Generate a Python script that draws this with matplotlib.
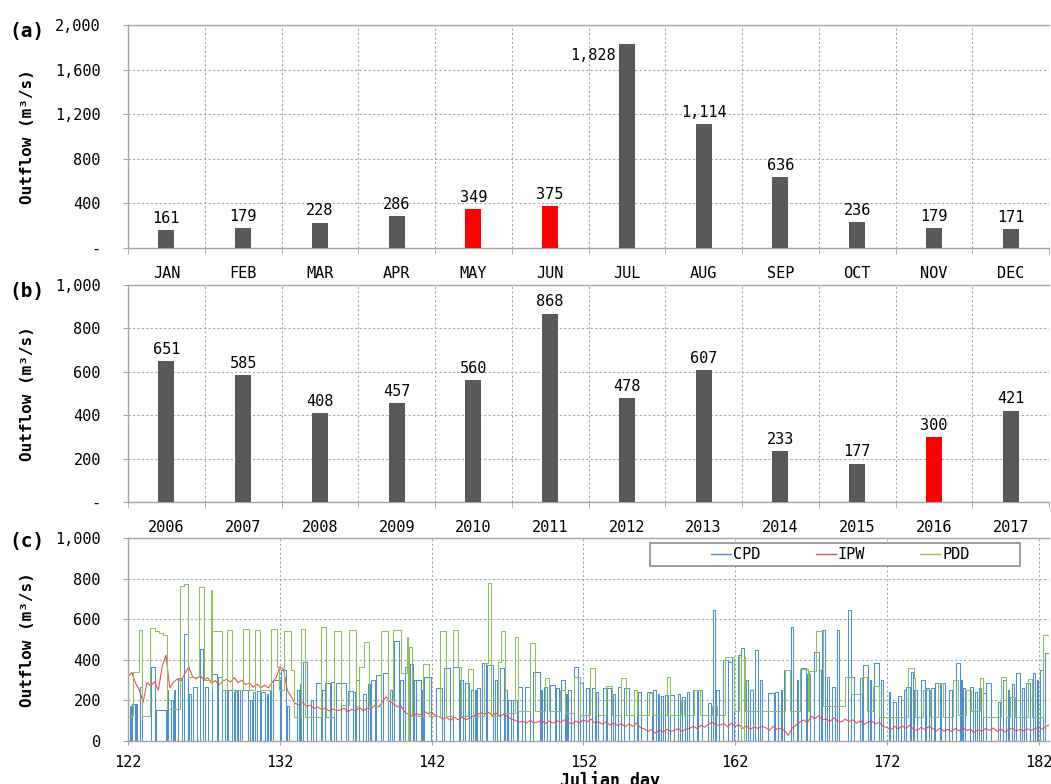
import numpy as np
import matplotlib
matplotlib.use('Agg')
import matplotlib.pyplot as plt
from matplotlib.patches import Rectangle
from matplotlib.ticker import FuncFormatter

# monthly mean outflow
months = ['JAN', 'FEB', 'MAR', 'APR', 'MAY', 'JUN',
          'JUL', 'AUG', 'SEP', 'OCT', 'NOV', 'DEC']
monthly_flow = [161, 179, 228, 286, 349, 375, 1828, 1114, 636, 236, 179, 171]
monthly_red = ['MAY', 'JUN']

# May-June mean outflow per year
years = ['2006', '2007', '2008', '2009', '2010', '2011',
         '2012', '2013', '2014', '2015', '2016', '2017']
yearly_flow = [651, 585, 408, 457, 560, 868, 478, 607, 233, 177, 300, 421]
yearly_red = ['2016']

# CPD release pulses: (start day, end day, outflow)
cpd_pulses = [
    (122.10, 122.18, 170), (122.28, 122.45, 180), (122.50, 122.58, 180), (122.79, 122.94, 265),
    (123.51, 123.78, 365), (123.85, 124.50, 155), (124.55, 124.65, 250), (124.80, 124.95, 200),
    (125.05, 125.12, 250), (125.31, 125.58, 310), (125.71, 125.97, 525),
    (126.05, 126.15, 230), (126.30, 126.52, 265), (126.74, 126.96, 455),
    (127.07, 127.29, 265), (127.55, 127.84, 330), (127.95, 128.17, 315),
    (128.39, 128.55, 250), (128.60, 128.82, 250), (128.95, 129.02, 240),
    (129.05, 129.15, 245), (129.25, 129.35, 250), (129.49, 129.93, 250),
    (130.05, 130.15, 200), (130.25, 130.35, 240), (130.47, 130.72, 245), (130.78, 131.02, 240),
    (131.15, 131.25, 230), (131.35, 131.45, 250), (131.57, 132.00, 300),
    (132.05, 132.40, 350), (132.45, 132.60, 170),
    (133.10, 133.25, 250), (133.30, 133.40, 280), (133.50, 133.80, 390),
    (134.05, 134.20, 200), (134.40, 134.70, 285), (134.80, 134.95, 250),
    (135.00, 135.30, 285), (135.37, 135.60, 292), (135.70, 136.00, 285),
    (136.05, 136.35, 285), (136.47, 136.80, 247), (136.85, 136.95, 240),
    (137.00, 137.20, 300), (137.45, 137.70, 232), (137.80, 137.92, 280),
    (138.00, 138.30, 300), (138.34, 138.67, 325), (138.77, 139.10, 333),
    (139.25, 139.40, 250), (139.55, 139.87, 495), (139.95, 140.10, 300),
    (140.25, 140.45, 366), (140.60, 140.75, 381), (140.85, 140.95, 300),
    (141.00, 141.30, 300), (141.35, 141.45, 250), (141.50, 141.97, 317),
    (142.30, 142.70, 260), (142.80, 143.20, 358),
    (143.40, 143.80, 366), (143.85, 144.05, 300),
    (144.20, 144.45, 284), (144.60, 144.75, 250), (144.85, 144.95, 250),
    (145.00, 145.20, 260), (145.30, 145.60, 383), (145.65, 146.05, 375),
    (146.15, 146.30, 300), (146.50, 146.80, 358), (146.85, 146.95, 250),
    (147.05, 147.20, 200), (147.39, 147.60, 202), (147.70, 147.95, 268),
    (148.16, 148.48, 268), (148.70, 149.15, 341),
    (149.18, 149.30, 250), (149.40, 149.60, 268), (149.80, 150.10, 276),
    (150.20, 150.40, 260), (150.50, 150.80, 300), (150.85, 150.95, 230),
    (151.00, 151.20, 250), (151.40, 151.65, 366), (151.78, 151.99, 284),
    (152.20, 152.40, 260), (152.55, 152.77, 260), (152.85, 152.95, 240),
    (153.30, 153.50, 260), (153.55, 153.85, 260), (153.95, 154.10, 230),
    (154.30, 154.50, 268), (154.65, 155.00, 260),
    (155.30, 155.50, 250), (155.60, 155.80, 240),
    (156.20, 156.50, 243), (156.60, 156.80, 250), (156.90, 157.00, 230),
    (157.10, 157.25, 220), (157.38, 157.55, 227), (157.70, 158.00, 227),
    (158.20, 158.35, 230), (158.50, 158.70, 218), (158.80, 158.95, 240),
    (159.25, 159.45, 250), (159.55, 159.80, 250),
    (160.20, 160.40, 185), (160.52, 160.68, 645), (160.75, 160.90, 250),
    (161.20, 161.50, 400), (161.55, 161.78, 390), (161.80, 161.95, 415),
    (162.20, 162.38, 424), (162.40, 162.58, 456), (162.70, 162.85, 300),
    (163.00, 163.15, 250), (163.30, 163.50, 448), (163.60, 163.75, 300),
    (164.14, 164.55, 235), (164.65, 164.80, 240),
    (165.00, 165.10, 250), (165.23, 165.67, 350), (165.68, 165.80, 560),
    (166.05, 166.15, 300), (166.33, 166.66, 362), (166.75, 166.90, 330),
    (167.20, 167.50, 440), (167.55, 167.65, 350), (167.70, 167.90, 547),
    (168.05, 168.15, 317), (168.40, 168.60, 268), (168.70, 168.86, 547),
    (169.45, 169.63, 645), (169.65, 169.80, 317),
    (170.20, 170.38, 310), (170.40, 170.77, 375), (170.85, 170.95, 300),
    (171.16, 171.50, 383), (171.60, 171.75, 300),
    (172.10, 172.20, 240), (172.40, 172.62, 190), (172.75, 172.90, 220),
    (173.10, 173.25, 250), (173.28, 173.50, 268), (173.60, 173.70, 341), (173.80, 173.95, 250),
    (174.27, 174.50, 300), (174.60, 174.75, 260),
    (174.90, 175.10, 260), (175.14, 175.47, 284), (175.58, 175.80, 284),
    (176.10, 176.25, 250), (176.57, 176.80, 383), (176.85, 176.95, 300),
    (177.00, 177.15, 260), (177.45, 177.67, 268), (177.80, 177.95, 240),
    (178.05, 178.20, 260), (178.35, 178.53, 235), (178.55, 178.88, 284),
    (179.30, 179.45, 194), (179.65, 179.87, 300), (179.95, 180.05, 250),
    (180.20, 180.35, 280), (180.52, 180.79, 333), (180.90, 181.05, 260),
    (181.18, 181.40, 284), (181.60, 181.75, 333), (181.85, 181.95, 300),
    (182.06, 182.28, 350), (182.38, 182.72, 432),
]

# IPW outflow every 6 hours, one row per day from day 122
ipw_flow = [
    317, 338, 285, 250,   190, 288, 270, 292,   250, 366, 423, 262,
    290, 305, 296, 333,   366, 318, 305, 322,   300, 312, 285, 298,
    276, 295, 304, 290,   312, 288, 300, 278,   286, 265, 280, 262,
    275, 262, 290, 310,   366, 352, 250, 218,   185, 178, 190, 172,
    176, 160, 168, 155,   162, 148, 158, 150,   153, 162, 145, 156,
    148, 165, 150, 162,   158, 175, 168, 190,   218, 195, 182, 168,
    172, 140, 132, 122,   135, 128, 148, 135,   142, 125, 120, 108,
    115, 102, 118, 104,   118, 105, 112, 125,   128, 140, 132, 142,
    126, 138, 122, 132,   120, 108, 102, 92,    98, 88, 102, 90,
    94, 102, 86, 98,      88, 100, 92, 104,     92, 84, 98, 90,
    104, 94, 108, 88,     95, 82, 96, 78,       88, 76, 85, 70,
    84, 72, 88, 66,       60, 48, 56, 38,       55, 44, 58, 48,
    52, 62, 48, 58,       62, 74, 60, 78,       68, 84, 92, 80,
    78, 86, 70, 88,       72, 80, 62, 74,       58, 70, 62, 72,
    66, 52, 72, 58,       62, 50, 28, 64,       78, 92, 104, 90,
    122, 110, 125, 104,   108, 96, 114, 98,     94, 108, 96, 104,
    88, 100, 82, 94,      98, 84, 92, 72,       66, 56, 72, 60,
    74, 62, 78, 58,       52, 68, 56, 72,       62, 50, 64, 48,
    58, 46, 62, 50,       64, 52, 58, 42,       56, 48, 62, 52,
    64, 48, 58, 44,       56, 64, 48, 58,       50, 60, 52, 62,
    66, 58, 74, 80,       70,
]

# PDD outflow: (day, outflow) held until the next entry
pdd_steps = [
    (122.00, 125), (122.35, 340), (122.72, 545), (122.95, 125),
    (123.45, 555), (123.75, 540), (124.05, 530), (124.30, 520), (124.55, 160),
    (125.43, 765), (125.70, 775), (125.98, 315),
    (126.68, 760), (127.00, 300), (127.45, 745), (127.52, 250),
    (127.56, 540), (128.18, 250), (128.50, 545), (128.88, 250),
    (129.55, 550), (129.98, 250), (130.37, 545), (130.70, 250),
    (131.45, 550), (131.80, 365), (131.95, 250),
    (132.30, 540), (132.74, 350), (132.95, 120),
    (133.40, 550), (133.65, 120), (134.71, 560), (135.04, 120),
    (135.59, 543), (136.03, 177), (136.58, 547), (137.02, 170),
    (137.24, 366), (137.57, 489), (137.90, 170),
    (138.67, 543), (139.10, 200), (139.44, 547), (139.98, 333),
    (140.36, 514), (140.42, 0), (140.50, 465), (140.70, 125),
    (141.45, 380), (141.85, 125), (142.55, 540), (142.98, 125),
    (143.40, 547), (143.72, 366), (143.95, 125),
    (144.42, 355), (144.75, 125),
    (145.45, 383), (145.71, 777), (145.89, 125),
    (146.35, 390), (146.60, 540), (146.85, 140),
    (147.50, 514), (147.70, 150), (148.46, 481), (148.79, 150),
    (149.45, 310), (149.75, 150), (150.43, 251), (150.76, 140),
    (151.35, 317), (151.75, 130), (152.44, 358), (152.77, 128),
    (153.50, 270), (153.90, 128), (154.50, 310), (154.80, 128),
    (155.30, 250), (155.55, 128), (156.30, 238), (156.50, 128),
    (157.50, 317), (157.70, 128), (158.45, 200), (158.65, 128),
    (159.30, 250), (159.65, 128), (160.50, 170), (160.78, 128),
    (161.30, 415), (161.95, 150), (162.25, 415), (162.40, 0),
    (162.58, 415), (162.65, 150),
    (165.25, 350), (165.60, 150),
    (166.30, 355), (166.78, 150), (166.88, 345), (167.35, 540), (167.80, 170),
    (169.20, 317), (169.60, 230), (170.35, 317), (170.70, 150),
    (171.10, 270), (171.45, 120),
    (173.40, 360), (173.75, 310), (173.85, 120),
    (174.40, 250), (174.80, 120), (175.35, 285), (175.70, 120),
    (176.35, 300), (176.65, 130), (177.20, 250), (177.55, 150),
    (178.10, 310), (178.35, 120), (179.50, 317), (179.85, 120),
    (180.10, 218), (180.45, 120), (181.30, 305), (181.55, 120),
    (182.30, 522), (183.00, 522),
]

plt.rcParams['font.family'] = ['DejaVu Sans Mono', 'DejaVu Sans']
plt.rcParams['font.size'] = 11

GRAY = '#A6A6A6'
BAR = '#595959'
RED = '#FF0000'
W, H = 1051, 784

fig = plt.figure(figsize=(W / 100, H / 100), dpi=100)


def panel(left, top, right, bottom):
    return fig.add_axes([left / W, 1 - bottom / H, (right - left) / W, (bottom - top) / H])


def style_axes(ax):
    for side in ['left', 'bottom', 'top']:
        ax.spines[side].set_color(GRAY)
        ax.spines[side].set_linewidth(1.0)
    ax.spines['right'].set_visible(False)
    ax.tick_params(axis='y', length=3.6, color=GRAY, pad=16)
    ax.set_axisbelow(True)


def bar_panel(ax, labels, values, red, ymax, step):
    x = np.arange(len(labels))
    colors = [RED if lab in red else BAR for lab in labels]
    ax.bar(x, values, width=0.21, color=colors, zorder=3)
    ax.set_xlim(-0.5, len(labels) - 0.5)
    ax.set_ylim(0, ymax)
    ax.set_yticks(np.arange(0, ymax + 1, step))
    ax.yaxis.set_major_formatter(FuncFormatter(lambda v, p: '-' if v == 0 else f'{int(v):,}'))
    ax.set_xticks(x)
    ax.set_xticklabels(labels)
    ax.set_xticks(np.arange(-0.5, len(labels)), minor=True)
    ax.tick_params(axis='x', which='major', length=0, pad=13)
    ax.tick_params(axis='x', which='minor', length=4, color=GRAY)
    ax.grid(axis='y', which='major', ls=(0, (2, 2)), color=GRAY, lw=0.8)
    ax.grid(axis='x', which='minor', ls=(0, (2, 2)), color=GRAY, lw=0.8)
    style_axes(ax)
    for xi, v in zip(x, values):
        # a label that would run past the top sits beside the bar instead
        if v > 0.9 * ymax:
            ax.annotate(f'{v:,}', (xi - 0.11, v), xytext=(-2, -3), textcoords='offset points',
                        ha='right', va='top')
        else:
            ax.annotate(f'{v:,}', (xi, v), xytext=(0, 3), textcoords='offset points',
                        ha='center', va='bottom')


ax_a = panel(128, 25, 1049, 248)
ax_b = panel(128, 285, 1049, 502)
ax_c = panel(128, 538, 1049, 741)

bar_panel(ax_a, months, monthly_flow, monthly_red, 2000, 400)
bar_panel(ax_b, years, yearly_flow, yearly_red, 1000, 200)

# step series for panel (c)
cpd_t, cpd_v = [122.0], [0]
for start, end, level in sorted(cpd_pulses):
    cpd_t += [start, end]
    cpd_v += [level, 0]
cpd_t.append(183.0)
cpd_v.append(0)

ipw_t = 122.0 + 0.25 * np.arange(len(ipw_flow))
pdd_t = [d for d, v in pdd_steps]
pdd_v = [v for d, v in pdd_steps]

l_cpd, = ax_c.plot(cpd_t, cpd_v, drawstyle='steps-post', color='#4A90D2', lw=0.75, label='CPD')
l_ipw, = ax_c.plot(ipw_t, ipw_flow, color='#F0484A', lw=0.75, label='IPW')
l_pdd, = ax_c.plot(pdd_t, pdd_v, drawstyle='steps-post', color='#8DC05A', lw=0.75, label='PDD')

ax_c.set_xlim(122, 182.67)
ax_c.set_ylim(0, 1000)
ax_c.set_yticks(np.arange(0, 1001, 200))
ax_c.yaxis.set_major_formatter(FuncFormatter(lambda v, p: f'{int(v):,}'))
ax_c.set_xticks(np.arange(122, 183, 10))
ax_c.tick_params(axis='x', length=3, color=GRAY, pad=7)
ax_c.grid(True, ls=(0, (2, 2)), color=GRAY, lw=0.8)
style_axes(ax_c)

ax_c.add_patch(Rectangle((0.567, 0.862), 0.4015, 0.113, transform=ax_c.transAxes,
                         facecolor='white', edgecolor='#8C8C8C', lw=1.2, zorder=4))
leg = ax_c.legend(handles=[l_cpd, l_ipw, l_pdd], ncol=3, loc='center',
                  bbox_to_anchor=(0.7736, 0.9187), frameon=False,
                  columnspacing=3.6, handlelength=1.3, handletextpad=0.15, fontsize=11)
leg.set_zorder(5)
for line in leg.get_lines():
    line.set_linewidth(1.0)

# panel letters and axis titles
for letter, yc in [('(a)', 32), ('(b)', 292), ('(c)', 542)]:
    fig.text(27 / W, 1 - yc / H, letter, fontsize=14, fontweight='bold',
             ha='center', va='center')
for yc in [136.5, 393.5, 639.5]:
    fig.text(27 / W, 1 - yc / H, 'Outflow (m³/s)', rotation=90, fontsize=11.5,
             fontweight='bold', ha='center', va='center')
fig.text(610 / W, 1 - 781 / H, 'Julian day', fontsize=12, fontweight='bold',
         ha='center', va='center')

fig.savefig('out.png', dpi=100)
